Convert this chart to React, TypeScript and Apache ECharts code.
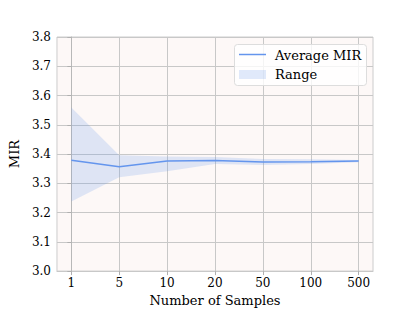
import React, { useEffect, useRef } from "react";
import * as echarts from "echarts";

const categories = ["1", "5", "10", "20", "50", "100", "500"];
const averageMIR = [3.379, 3.357, 3.376, 3.378, 3.373, 3.374, 3.376];
const rangeUpper = [3.559, 3.396, 3.392, 3.39, 3.383, 3.382, 3.38];
const rangeLower = [3.238, 3.321, 3.341, 3.366, 3.363, 3.366, 3.372];
const yTicks = [3.0, 3.1, 3.2, 3.3, 3.4, 3.5, 3.6, 3.7, 3.8];

const FONT = "DejaVu Serif";

export default function App() {
  const ref = useRef<HTMLDivElement>(null);
  useEffect(() => {
    document.body.style.margin = "0";
    if (!ref.current) return;
    const chart = echarts.init(ref.current, null, { renderer: "svg" });
    const idx = categories.map((_, i) => i);
    const lineColor = "#6495ED";
    const bandColor = "rgba(100,149,237,0.2)";
    chart.setOption({
      animation: false,
      backgroundColor: "#ffffff",
      grid: { left: 52, top: 37, right: 42, bottom: 35, show: true, backgroundColor: "#fdf8f7", borderColor: "#cccccc", borderWidth: 1 },
      xAxis: {
        type: "value",
        min: -0.3,
        max: idx.length - 1 + 0.3,
        name: "Number of Samples",
        nameLocation: "middle",
        nameGap: 22,
        nameTextStyle: { fontFamily: FONT, fontSize: 13, color: "#000" },
        axisLine: { show: true, lineStyle: { color: "#c8c8c8" } },
        axisTick: { show: true, customValues: idx, length: 4, lineStyle: { color: "#b0b0b0" } },
        axisLabel: {
          customValues: idx,
          formatter: (v: number) => categories[Math.round(v)] ?? "",
          fontFamily: FONT,
          fontSize: 12,
          color: "#000",
          margin: 6,
        },
        splitLine: { show: true, lineStyle: { color: "#c8c8c8", width: 1 } },
      },
      yAxis: {
        type: "value",
        min: yTicks[0],
        max: yTicks[yTicks.length - 1],
        interval: 0.1,
        name: "MIR",
        nameLocation: "middle",
        nameGap: 31,
        nameTextStyle: { fontFamily: FONT, fontSize: 13, color: "#000" },
        axisLine: { show: true, lineStyle: { color: "#b8b8b8" } },
        axisTick: { show: true, length: 4, lineStyle: { color: "#b0b0b0" } },
        axisLabel: {
          formatter: (v: number) => v.toFixed(1),
          fontFamily: FONT,
          fontSize: 12,
          color: "#000",
          margin: 6,
        },
        splitLine: { show: true, lineStyle: { color: "#c8c8c8", width: 1 } },
      },
      series: [
        {
          name: "Range",
          type: "custom",
          data: idx.map((i) => [i, rangeLower[i], rangeUpper[i]]),
          encode: { x: 0, y: [1, 2] },
          silent: true,
          z: 3,
          renderItem: (params: any, api: any) => {
            if (params.dataIndex !== 0) return null;
            const upper = idx.map((i) => api.coord([i, rangeUpper[i]]));
            const lower = idx.map((i) => api.coord([i, rangeLower[i]])).reverse();
            return {
              type: "polygon",
              shape: { points: upper.concat(lower) },
              style: { fill: bandColor },
            };
          },
        },
        {
          name: "Average MIR",
          type: "line",
          data: idx.map((i) => [i, averageMIR[i]]),
          lineStyle: { color: lineColor, width: 1.5 },
          symbol: "none",
          z: 5,
        },
      ],
      graphic: [
        {
          type: "rect",
          shape: { x: 234.5, y: 44.5, width: 132, height: 41, r: 3 },
          style: { fill: "rgba(255,255,255,0.8)", stroke: "#dddddd", lineWidth: 1 },
          z: 100,
        },
        {
          type: "line",
          shape: { x1: 239, y1: 54.5, x2: 266, y2: 54.5 },
          style: { stroke: lineColor, lineWidth: 1.5 },
          z: 101,
        },
        {
          type: "rect",
          shape: { x: 239, y: 70, width: 27, height: 9 },
          style: { fill: bandColor },
          z: 101,
        },
        {
          type: "text",
          x: 275,
          y: 55,
          style: { text: "Average MIR", fontFamily: FONT, fontSize: 13, fill: "#000", textVerticalAlign: "middle" },
          z: 101,
        },
        {
          type: "text",
          x: 275,
          y: 74.5,
          style: { text: "Range", fontFamily: FONT, fontSize: 13, fill: "#000", textVerticalAlign: "middle" },
          z: 101,
        },
      ],
    });
    return () => chart.dispose();
  }, []);
  return <div ref={ref} style={{ width: 415, height: 312 }} />;
}
